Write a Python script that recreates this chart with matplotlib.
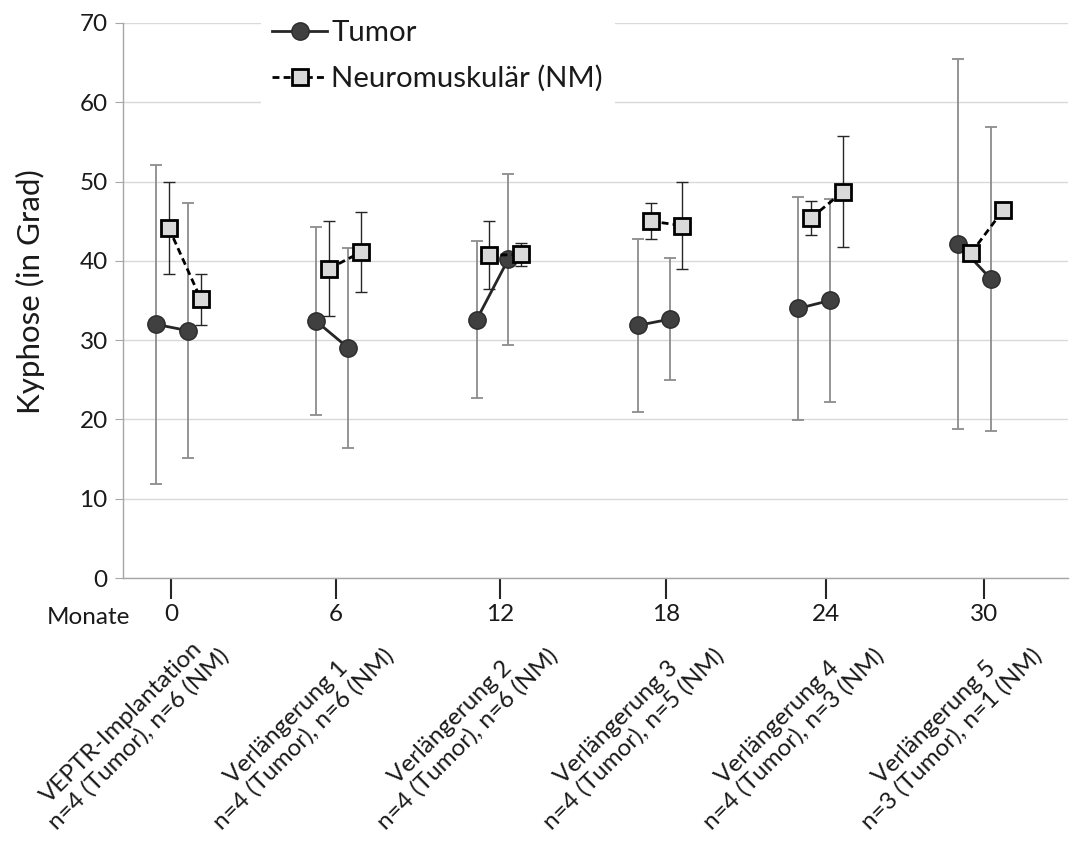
import matplotlib.pyplot as plt
from matplotlib.lines import Line2D
from matplotlib.transforms import blended_transform_factory

plt.rcParams["font.family"] = ["Lato", "DejaVu Sans"]

# x axis: months after implantation
month_labels = ["0", "6", "12", "18", "24", "30"]
month_pos = [0.0, 6.0, 12.0, 18.05, 23.9, 29.65]

stage_names = ["VEPTR-Implantation", "Verlängerung 1", "Verlängerung 2",
               "Verlängerung 3", "Verlängerung 4", "Verlängerung 5"]
n_labels = ["n=4 (Tumor), n=6 (NM)", "n=4 (Tumor), n=6 (NM)",
            "n=4 (Tumor), n=6 (NM)", "n=4 (Tumor), n=5 (NM)",
            "n=4 (Tumor), n=3 (NM)", "n=3 (Tumor), n=1 (NM)"]

# two measurements (before / after) per stage
tumor_x = [[-0.56, 0.61], [5.29, 6.47], [11.15, 12.30],
           [17.02, 18.20], [22.88, 24.03], [28.71, 29.89]]
tumor_mean = [[32.0, 31.2], [32.4, 29.0], [32.6, 40.2],
              [31.85, 32.65], [34.0, 35.0], [42.1, 37.75]]
tumor_sd = [[20.1, 16.1], [11.85, 12.6], [9.95, 10.8],
            [10.85, 7.65], [14.05, 12.8], [23.3, 19.15]]

nm_x = [[-0.08, 1.09], [5.76, 6.93], [11.61, 12.78],
        [17.49, 18.65], [23.34, 24.50], [29.18, 30.35]]
nm_mean = [[44.15, 35.15], [39.0, 41.1], [40.7, 40.8],
           [45.0, 44.45], [45.4, 48.7], [41.0, 46.4]]
nm_sd = [[5.75, 3.25], [6.0, 5.0], [4.3, 1.4],
         [2.3, 5.45], [2.1, 7.0], [0, 0]]

fs = 17.5
text_col = "#1a1a1a"

fig = plt.figure(figsize=(10.82, 8.41), dpi=100)
ax = fig.add_axes([0.1137, 0.3127, 0.8733, 0.66])

tumor_style = dict(color="#262626", lw=2, marker="o", ms=12.5,
                   mfc="#404040", mec="#2b2b2b", mew=1)
nm_style = dict(color="black", lw=2, ls="--", dashes=(2.5, 1.5), marker="s",
                ms=11, mfc="#d9d9d9", mec="black", mew=2)

for i in range(len(stage_names)):
    ax.errorbar(tumor_x[i], tumor_mean[i], yerr=tumor_sd[i], fmt="none",
                ecolor="#8c8c8c", elinewidth=1.3, capsize=4, capthick=1.3,
                zorder=2)
    ax.plot(tumor_x[i], tumor_mean[i], zorder=3, **tumor_style)
    ax.errorbar(nm_x[i], nm_mean[i], yerr=nm_sd[i], fmt="none",
                ecolor="#262626", elinewidth=1.0, capsize=4, capthick=1.0,
                zorder=4)
    ax.plot(nm_x[i], nm_mean[i], zorder=5, **nm_style)

ax.set_xlim(-1.75, 32.71)
ax.set_ylim(0, 70)
ax.set_yticks(range(0, 71, 10))
ax.set_xticks(month_pos, month_labels)

ax.yaxis.grid(True, color="#d9d9d9", lw=1)
ax.set_axisbelow(True)
for side in ["top", "right"]:
    ax.spines[side].set_visible(False)
for side in ["left", "bottom"]:
    ax.spines[side].set_color("#a6a6a6")
    ax.spines[side].set_linewidth(1)

ax.tick_params(axis="y", length=6, color="#a6a6a6", labelsize=fs,
               labelcolor=text_col, pad=5)
ax.tick_params(axis="x", length=15, width=1.5, color="#262626",
               labelsize=fs, labelcolor=text_col, pad=4)

fig.text(88 / 1082, 1 - 617 / 841, "Monate", ha="center", va="center",
         fontsize=fs, color=text_col)
fig.text(30 / 1082, 1 - 292 / 841, "Kyphose (in Grad)", rotation=90,
         ha="center", va="center", fontsize=22.5, color=text_col)

# rotated stage labels under the month ticks
trans = blended_transform_factory(ax.transData, ax.transAxes)
for pos, name, n in zip(month_pos, stage_names, n_labels):
    ax.text(pos + 1.1, -0.09, f"{name}\n{n}", transform=trans,
            rotation=45, rotation_mode="anchor", ha="right", va="top",
            multialignment="center", fontsize=fs, color=text_col,
            linespacing=1.15)

handles = [Line2D([], [], **tumor_style), Line2D([], [], **nm_style)]
leg = ax.legend(handles, ["Tumor", "Neuromuskulär (NM)"], loc="upper left",
                bbox_to_anchor=(0.13, 1.053), fontsize=21.2, frameon=True,
                facecolor="white", edgecolor="none", framealpha=1,
                handlelength=1.85, handletextpad=0.15, labelspacing=0.65,
                borderpad=0.4, fancybox=False)
for t in leg.get_texts():
    t.set_color(text_col)

fig.savefig("out.png", dpi=100)
